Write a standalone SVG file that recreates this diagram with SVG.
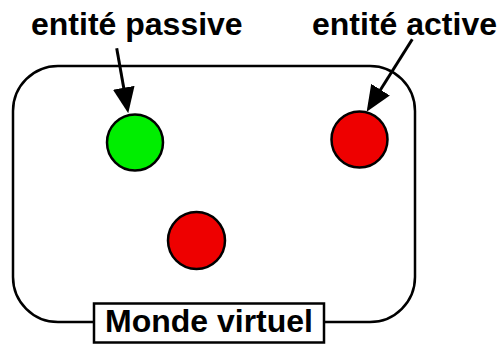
<svg xmlns="http://www.w3.org/2000/svg" width="501" height="344" viewBox="0 0 501 344">
  <style>
    .lbl { font-family: "Liberation Sans", Arial, sans-serif; font-weight: bold; font-size: 32px; fill: #000; }
    .frame { fill: #fff; stroke: #000; stroke-width: 2.5; }
    .ent { stroke: #000; stroke-width: 2.5; }
    .active { fill: #ee0000; }
    .passive { fill: #00ee00; }
    .conn { stroke: #000; stroke-width: 3; fill: none; }
  </style>
  <defs>
    <marker id="arrow" markerUnits="userSpaceOnUse" markerWidth="26" markerHeight="22" refX="16" refY="11" orient="auto">
      <path d="M0,0 L26,11 L0,22 z" fill="#000"/>
    </marker>
  </defs>
  <rect width="501" height="344" fill="#fff"/>
  <g id="monde">
    <rect class="frame" x="13" y="66" width="402" height="256" rx="45" ry="45"/>
    <rect class="frame" x="94" y="303.5" width="230" height="39"/>
    <text class="lbl" x="209" y="331.5" text-anchor="middle">Monde virtuel</text>
  </g>
  <g id="entite-passive">
    <circle class="ent passive" cx="135" cy="142.5" r="28"/>
  </g>
  <g id="entite-active-1">
    <circle class="ent active" cx="359.5" cy="139.5" r="28"/>
  </g>
  <g id="entite-active-2">
    <circle class="ent active" cx="196.5" cy="240.5" r="28.5"/>
  </g>
  <g id="label-passive">
    <text class="lbl" x="31" y="35">entité passive</text>
  </g>
  <g id="label-active">
    <text class="lbl" x="312" y="35">entité active</text>
  </g>
  <g id="connectors">
    <line class="conn" x1="116.7" y1="48.3" x2="126.5" y2="103.5" marker-end="url(#arrow)"/>
    <line class="conn" x1="412.3" y1="39.3" x2="372.0" y2="103.2" marker-end="url(#arrow)"/>
  </g>
</svg>
